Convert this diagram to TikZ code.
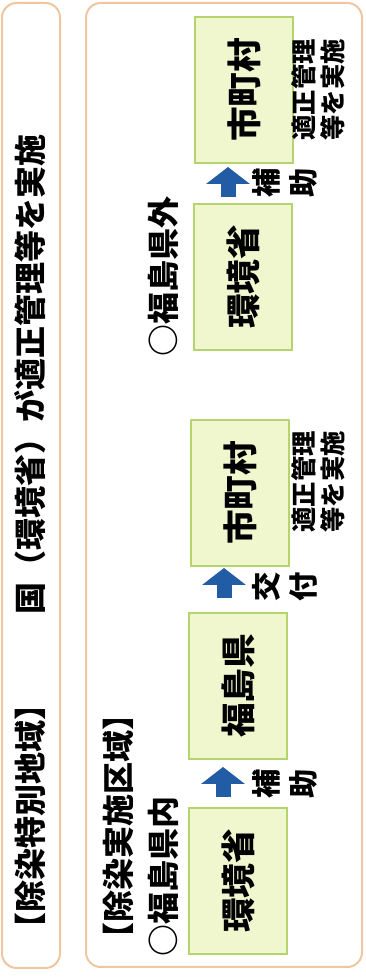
\documentclass[tikz,border=0pt]{standalone}
\usepackage{fontspec}
\newfontfamily\jp{Noto Sans CJK JP}
\usetikzlibrary{arrows.meta,positioning}

\definecolor{panelline}{RGB}{240,198,160}
\definecolor{boxfill}{RGB}{240,247,206}
\definecolor{boxline}{RGB}{182,212,110}
\definecolor{arrowblue}{RGB}{34,92,164}

\tikzset{
  panel/.style={draw=panelline, line width=1.5pt, rounded corners=11pt, fill=white},
  title/.style={anchor=west, inner sep=0pt, font=\jp\bfseries\fontsize{24}{28}\selectfont},
  box/.style={draw=boxline, fill=boxfill, line width=1pt, minimum width=109.5pt,
    minimum height=73.5pt, inner sep=0pt, font=\jp\bfseries\fontsize{26}{30}\selectfont},
  flow/.style={arrowblue, line width=11.25pt, -{Triangle[length=12.75pt, width=32.25pt]}},
  note/.style={align=center, inner sep=0pt, font=\jp\bfseries\fontsize{22}{27.75}\selectfont},
  remark/.style={align=center, inner sep=0pt, font=\jp\bfseries\fontsize{19}{21.75}\selectfont}
}

\begin{document}
\begin{tikzpicture}[x=0.75pt, y=-0.75pt, rotate=90, transform shape]
  \useasboundingbox (0,0) rectangle (977,366);

  % outer frames
  \draw[panel] (9,2) rectangle (974,60);
  \draw[panel] (10,86) rectangle (974,362);

  \node[title] (t1) at (32,30) {【除染特別地域】};
  \node[title] (t2) at (362,30) {国（環境省）が適正管理等を実施};

  \node[title] (h1) at (22,118) {【除染実施区域】};
  \node[title] (h2) at (20,163) {○福島県内};
  \node[title] (h3) at (620,163) {○福島県外};

  % boxes
  \node[box] (b1) at (96,238) {環境省};
  \node[box] (b2) at (291,238) {福島県};
  \node[box] (b3) at (484,240) {市町村};
  \node[box] (b4) at (700,243) {環境省};
  \node[box] (b5) at (887,244) {市町村};

  % arrows
  \coordinate (a1s) at (180,223);
  \coordinate (a1e) at (210,223);
  \coordinate (a2s) at (379,224);
  \coordinate (a2e) at (409,224);
  \coordinate (a3s) at (780,228);
  \coordinate (a3e) at (810,228);

  \draw[flow] (a1s) -- (a1e);
  \draw[flow] (a2s) -- (a2e);
  \draw[flow] (a3s) -- (a3e);

  \node[note] (n1) at (193,285) {補\\助};
  \node[note] (n2) at (390,285) {交\\付};
  \node[note] (n3) at (794,285) {補\\助};

  \node[remark] (m1) at (495,318) {適正管理\\等を実施};
  \node[remark] (m2) at (887,318) {適正管理\\等を実施};
\end{tikzpicture}
\end{document}
